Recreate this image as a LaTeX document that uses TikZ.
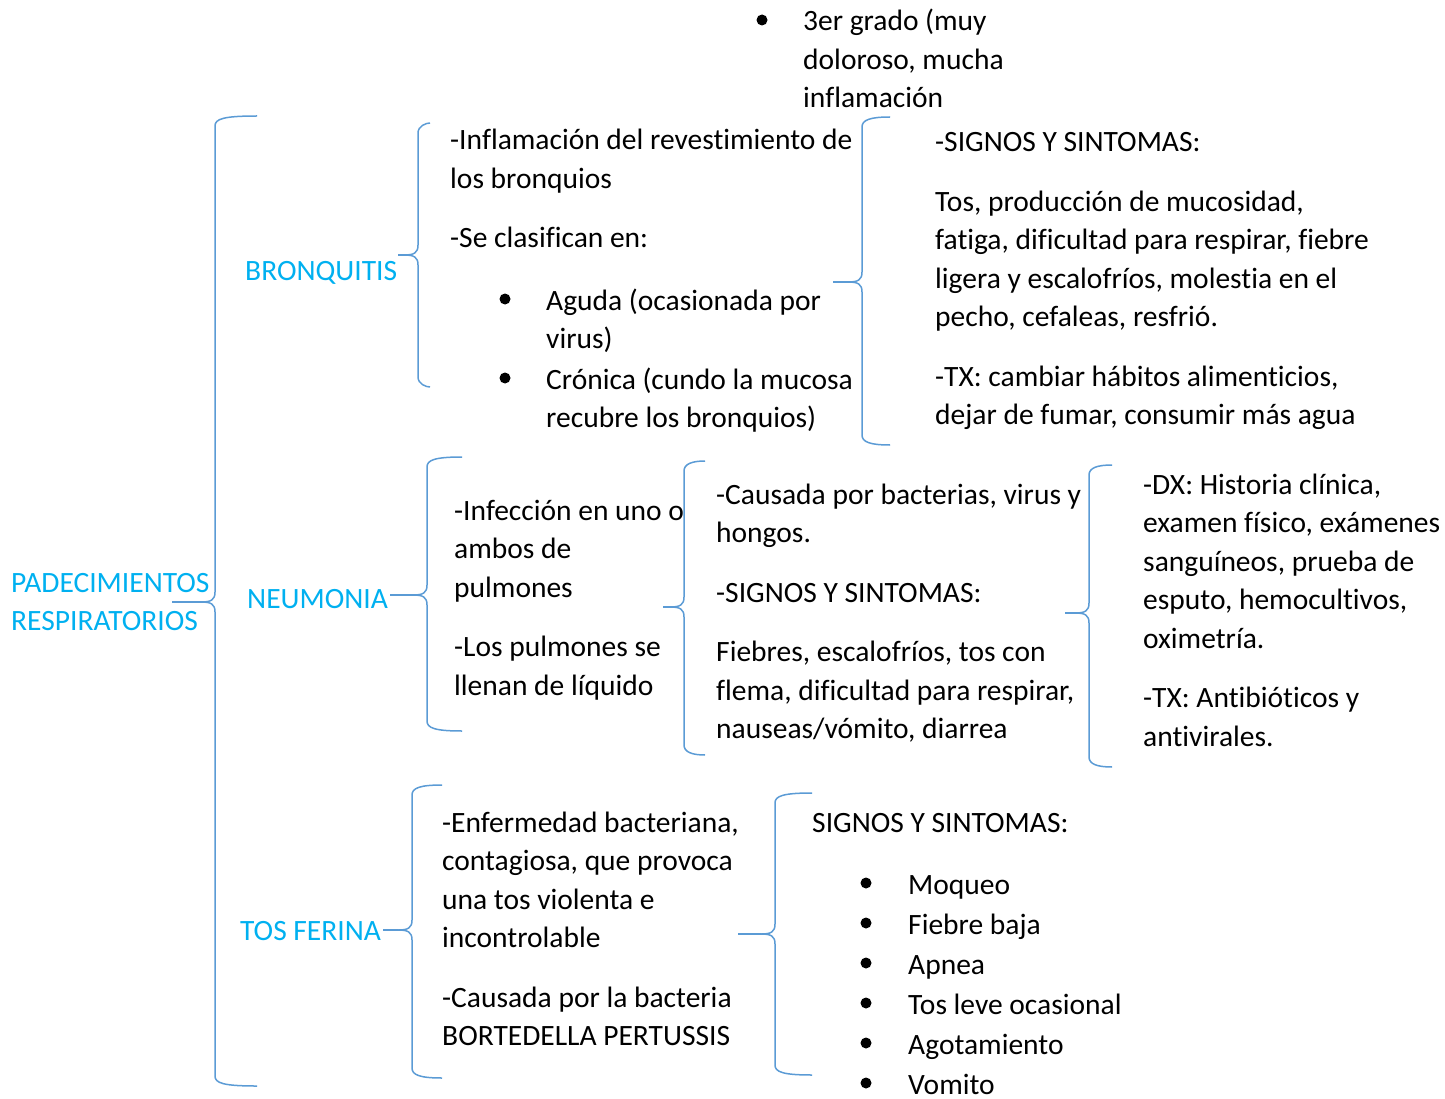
\documentclass[tikz,border=0pt]{standalone}
\usepackage{fontspec}
\setmainfont{Carlito}[Ligatures={NoCommon}]
\definecolor{lblue}{HTML}{00B0F0}
\definecolor{brcol}{HTML}{5B9BD5}
\newcommand\bodyfont{\fontsize{29.5}{38.5}\selectfont}
\newcommand\blk[1]{\parbox[t]{700pt}{\raggedright\bodyfont #1}}
% brace: name, xv, ytop, ybot, ytip, xr, xstem
\newcommand\wbrace[7]{%
  \coordinate (#1-tip) at (#2-14,#5);
  \coordinate (#1-stem) at (#7,#5);
  \draw[brc] (#6,#3) .. controls (#2+8,#3) and (#2,#3+3) .. (#2,#3+10)
     -- (#2,#5-10) .. controls (#2,#5-2) and (#2-4,#5) .. (#1-tip);
  \draw[brc] (#1-tip) .. controls (#2-4,#5) and (#2,#5+2) .. (#2,#5+10)
     -- (#2,#4-10) .. controls (#2,#4-3) and (#2+8,#4) .. (#6,#4);
  \draw[brc] (#1-stem) -- (#1-tip);
}
\tikzset{
  txt/.style={anchor=base west, inner sep=0pt},
  lbl/.style={anchor=base west, inner sep=0pt, text=lblue, font=\bodyfont},
  brc/.style={draw=brcol, line width=1.5pt},
  bul/.style={circle, fill=black, minimum size=11pt, inner sep=0pt},
}
\begin{document}
\begin{tikzpicture}[x=1pt,y=-1pt]
\useasboundingbox (0,0) rectangle (1445,1099);

% braces
\wbrace{b0}{215}{116}{1086}{602}{257}{172}
\wbrace{b1}{418}{123}{387}{255}{430}{398}
\wbrace{b2}{862}{117}{445}{282}{890}{833}
\wbrace{b3}{427}{457}{731}{595}{462}{390}
\wbrace{b4}{684}{461}{755}{607}{705}{663}
\wbrace{b5}{1089}{465}{767}{613}{1112}{1065}
\wbrace{b6}{412}{785}{1078}{930}{442}{383}
\wbrace{b7}{775}{793}{1075}{934}{812}{738}

% labels
\node[lbl] (pad) at (11,592) {\parbox[t]{300pt}{\raggedright PADECIMIENTOS\\RESPIRATORIOS}};
\node[lbl] (bron) at (245,280) {BRONQUITIS};
\node[lbl] (neum) at (247,608) {NEUMONIA};
\node[lbl] (tos) at (240,940) {TOS FERINA};

% top fragment
\node[bul] (bt0) at (762,20) {};
\node[txt] (top) at (803,31) {\blk{3er grado (muy\\doloroso, mucha\\inflamación}};

% bronquitis
\node[txt] (bq1) at (450,150) {\blk{-Inflamación del revestimiento de\\los bronquios\\[21pt]-Se clasifican en:}};
\node[bul] (bb1) at (505,299) {};
\node[txt] (bq2) at (546,310) {\blk{Aguda (ocasionada por\\virus)}};
\node[bul] (bb2) at (505,378) {};
\node[txt] (bq3) at (546,389) {\blk{Crónica (cundo la mucosa\\recubre los bronquios)}};
\node[txt] (bq4) at (935,152) {\blk{-SIGNOS Y SINTOMAS:\\[21pt]Tos, producción de mucosidad,\\fatiga, dificultad para respirar, fiebre\\ligera y escalofríos, molestia en el\\pecho, cefaleas, resfrió.\\[21pt]-TX: cambiar hábitos alimenticios,\\dejar de fumar, consumir más agua}};

% neumonia
\node[txt] (ne1) at (454,520) {\blk{-Infección en uno o\\ambos de\\pulmones\\[21pt]-Los pulmones se\\llenan de líquido}};
\node[txt] (ne2) at (716,504) {\blk{-Causada por bacterias, virus y\\hongos.\\[21pt]-SIGNOS Y SINTOMAS:\\[21pt]Fiebres, escalofríos, tos con\\flema, dificultad para respirar,\\nauseas/vómito, diarrea}};
\node[txt] (ne3) at (1143,494) {\blk{-DX: Historia clínica,\\examen físico, exámenes\\sanguíneos, prueba de\\esputo, hemocultivos,\\oximetría.\\[21pt]-TX: Antibióticos y\\antivirales.}};

% tos ferina
\node[txt] (tf1) at (442,832) {\blk{-Enfermedad bacteriana,\\contagiosa, que provoca\\una tos violenta e\\incontrolable\\[21pt]-Causada por la bacteria\\BORTEDELLA PERTUSSIS}};
\node[txt] (tf2) at (812,832) {\blk{SIGNOS Y SINTOMAS:}};
\foreach \t [count=\i from 0] in {Moqueo, Fiebre baja, Apnea, Tos leve ocasional, Agotamiento, Vomito} {
  \node[bul] (tb\i) at (866,883+40*\i) {};
  \node[txt] (ts\i) at (908,894+40*\i) {\blk{\t}};
}
\end{tikzpicture}
\end{document}
